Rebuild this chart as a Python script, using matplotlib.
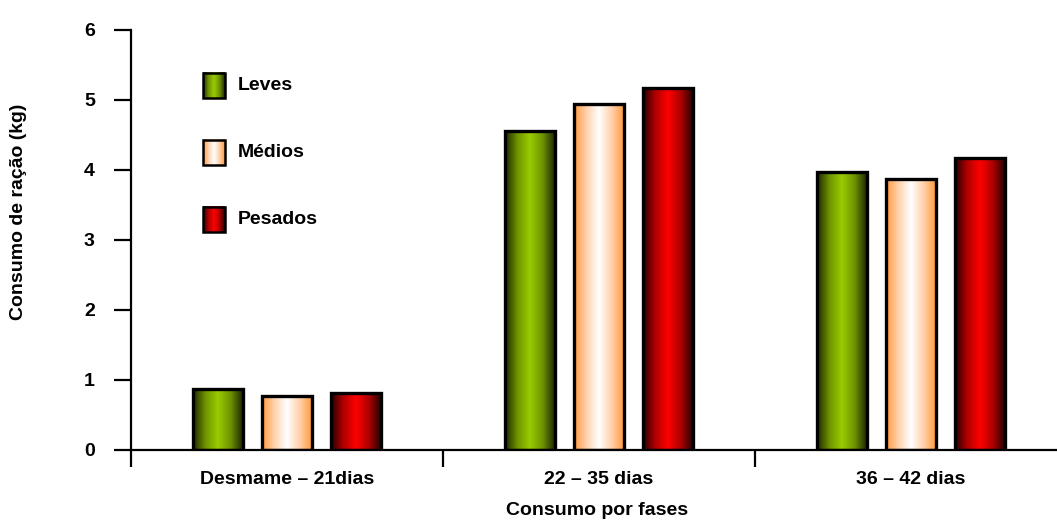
import numpy as np
import matplotlib.pyplot as plt
from matplotlib import font_manager
from matplotlib.colors import LinearSegmentedColormap
from matplotlib.patches import Rectangle

nomes_fontes = {f.name for f in font_manager.fontManager.ttflist}
if 'Liberation Sans Narrow' in nomes_fontes:
    plt.rcParams['font.family'] = ['Liberation Sans Narrow', 'DejaVu Sans']
    fs = 16.5
else:
    plt.rcParams['font.family'] = ['Liberation Sans', 'DejaVu Sans']
    fs = 14
plt.rcParams['font.weight'] = 'bold'

fases = ['Desmame – 21dias', '22 – 35 dias', '36 – 42 dias']
grupos = ['Leves', 'Médios', 'Pesados']
leves = [0.87, 4.56, 3.97]
medios = [0.77, 4.94, 3.87]
pesados = [0.81, 5.17, 4.17]

# gradient colours (edge -> centre -> edge)
cmaps = [
    LinearSegmentedColormap.from_list('g', ['#1c2600', '#6f9400', '#99cc00', '#6f9400', '#1c2600']),
    LinearSegmentedColormap.from_list('o', ['#ff9a3c', '#ffd2ad', '#ffffff', '#ffd2ad', '#ff9a3c']),
    LinearSegmentedColormap.from_list('r', ['#2a0000', '#b00000', '#ff0000', '#b00000', '#2a0000']),
]
grad = np.linspace(0, 1, 256).reshape(1, -1)


def grad_bar(ax, x0, y0, w, h, cmap, lw=2.4):
    ax.imshow(grad, cmap=cmap, extent=(x0, x0 + w, y0, y0 + h),
              aspect='auto', interpolation='bicubic', zorder=2)
    ax.add_patch(Rectangle((x0, y0), w, h, fill=False, edgecolor='black',
                           linewidth=lw, zorder=3))


fig = plt.figure(figsize=(10.57, 5.29), dpi=100)
ax = fig.add_axes([131 / 1057, 79 / 529, (1057 - 131) / 1057, 420 / 529])

x = np.arange(len(fases))
bw = 0.16
offsets = [-0.22, 0.0, 0.22]
for serie, off, cm in zip([leves, medios, pesados], offsets, cmaps):
    for xi, v in zip(x, serie):
        grad_bar(ax, xi + off - bw / 2, 0, bw, v, cm)

ax.set_xlim(-0.5, 2.468)
ax.set_ylim(0, 6)

# legend drawn inside the plot area
leg_y = [5.03, 4.07, 3.11]
for nome, yy, cm in zip(grupos, leg_y, cmaps):
    grad_bar(ax, -0.269, yy, 0.07, 0.36, cm, lw=1.8)
    ax.text(-0.157, yy + 0.18, nome, fontsize=fs, fontweight='bold',
            va='center', ha='left')

for s in ['top', 'right']:
    ax.spines[s].set_visible(False)
for s in ['left', 'bottom']:
    ax.spines[s].set_linewidth(1.6)

ax.set_yticks(range(0, 7))
ax.tick_params(axis='y', direction='out', length=12, width=1.6, labelsize=fs, pad=14)
ax.set_xticks(x)
ax.set_xticklabels(fases, fontsize=fs, fontweight='bold')
ax.tick_params(axis='x', which='major', length=0, pad=15)
ax.set_xticks([-0.5, 0.5, 1.5], minor=True)
ax.tick_params(axis='x', which='minor', direction='out', length=12, width=1.6)
for lab in ax.get_yticklabels():
    lab.set_fontweight('bold')

ax.set_xlabel('Consumo por fases', fontsize=fs, fontweight='bold')
ax.xaxis.set_label_coords(0.503, -0.143)
ax.xaxis.label.set_va('center')
ax.set_ylabel('Consumo de ração (kg)', fontsize=fs, fontweight='bold')
ax.yaxis.set_label_coords(-0.122, 0.567)
ax.yaxis.label.set_va('center')

fig.savefig('out.png', dpi=100)
